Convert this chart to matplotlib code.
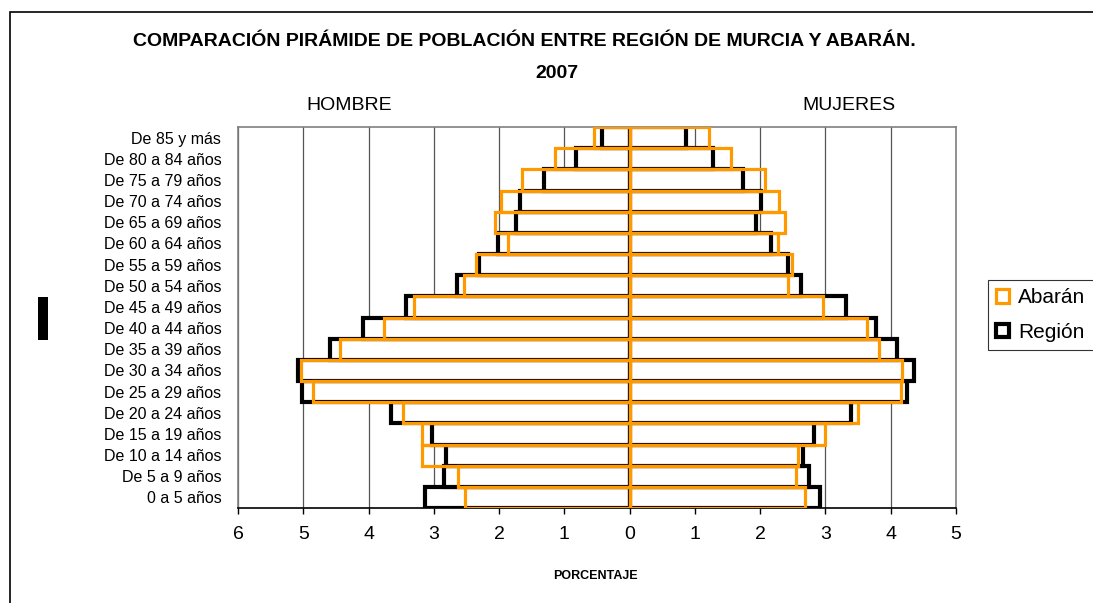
import matplotlib
matplotlib.use("Agg")
import matplotlib.pyplot as plt
from matplotlib.patches import Rectangle
import numpy as np

plt.rcParams['font.family'] = ['Liberation Sans', 'DejaVu Sans']

categories = ["0 a 5 años", "De 5 a 9 años", "De 10 a 14 años", "De 15 a 19 años",
              "De 20 a 24 años", "De 25 a 29 años", "De 30 a 34 años", "De 35 a 39 años",
              "De 40 a 44 años", "De 45 a 49 años", "De 50 a 54 años", "De 55 a 59 años",
              "De 60 a 64 años", "De 65 a 69 años", "De 70 a 74 años", "De 75 a 79 años",
              "De 80 a 84 años", "De 85 y más"]

# values listed from youngest (bottom) to oldest (top)
abaran_hombres = [2.52, 2.63, 3.18, 3.18, 3.47, 4.85, 5.04, 4.44, 3.76, 3.30,
                  2.54, 2.36, 1.87, 2.07, 1.97, 1.65, 1.15, 0.54]
region_hombres = [3.14, 2.84, 2.81, 3.03, 3.66, 5.02, 5.08, 4.59, 4.09, 3.42,
                  2.65, 2.31, 2.02, 1.74, 1.68, 1.31, 0.82, 0.42]
abaran_mujeres = [2.68, 2.55, 2.58, 2.99, 3.50, 4.15, 4.18, 3.82, 3.64, 2.96,
                  2.43, 2.49, 2.28, 2.38, 2.29, 2.07, 1.55, 1.21]
region_mujeres = [2.91, 2.75, 2.65, 2.83, 3.39, 4.25, 4.36, 4.09, 3.77, 3.32,
                  2.62, 2.43, 2.16, 1.94, 2.01, 1.73, 1.27, 0.87]

xticks = [-6, -5, -4, -3, -2, -1, 0, 1, 2, 3, 4, 5]
xticklabels = ["6", "5", "4", "3", "2", "1", "0", "1", "2", "3", "4", "5"]

W, H = 1093, 603
fig = plt.figure(figsize=(W / 100, H / 100), dpi=100)
ax = fig.add_axes([238 / W, 1 - 508 / H, (956 - 238) / W, (508 - 127) / H])

y = np.arange(len(categories))
black = "#000000"
orange = "#FF9900"

ax.barh(y, -np.array(region_hombres), height=1.0, color="white", edgecolor=black,
        linewidth=3.0, zorder=2)
ax.barh(y, region_mujeres, height=1.0, color="white", edgecolor=black,
        linewidth=3.0, zorder=2, label="Región")
ax.barh(y, -np.array(abaran_hombres), height=1.0, fill=False, edgecolor=orange,
        linewidth=2.3, zorder=3)
ax.barh(y, abaran_mujeres, height=1.0, fill=False, edgecolor=orange,
        linewidth=2.3, zorder=3, label="Abarán")

ax.set_xlim(-6, 5)
ax.set_ylim(-0.5, len(categories) - 0.5)
ax.set_xticks(xticks)
ax.set_xticklabels(xticklabels, fontsize=14)
ax.set_yticks(y)
ax.set_yticklabels(categories, fontsize=11.5)
ax.tick_params(axis='y', length=0, pad=12)
ax.tick_params(axis='x', length=4, width=1, color='black', pad=9, direction='out')

for t in xticks:
    ax.axvline(t, color="#555555", lw=0.9, zorder=1)
ax.axvline(0, color="black", lw=1.2, zorder=1.5)

for side in ['top', 'right', 'left']:
    ax.spines[side].set_color('#808080')
    ax.spines[side].set_linewidth(1.2)
ax.spines['bottom'].set_color('black')
ax.spines['bottom'].set_linewidth(1.2)

fig.text(595 / W, 1 - 576 / H, "PORCENTAJE", ha='center', va='center',
         fontsize=9, fontweight='bold')

fig.text(524 / W, 1 - 42 / H, "COMPARACIÓN PIRÁMIDE DE POBLACIÓN ENTRE REGIÓN DE MURCIA Y ABARÁN.",
         ha='center', va='center', fontsize=14, fontweight='bold')
fig.text(557 / W, 1 - 73 / H, "2007", ha='center', va='center', fontsize=14, fontweight='bold')
fig.text(349 / W, 1 - 106 / H, "HOMBRE", ha='center', va='center', fontsize=14)
fig.text(849 / W, 1 - 105 / H, "MUJERES", ha='center', va='center', fontsize=14)

# figure frame
fig.patches.append(Rectangle((10 / W, -0.05), 1.2, 1 - 12 / H + 0.05, transform=fig.transFigure,
                             fill=False, edgecolor='black', linewidth=1.2))
# small black block at left
fig.patches.append(Rectangle((38 / W, 1 - 340 / H), 10 / W, 43 / H, transform=fig.transFigure,
                             facecolor='black', edgecolor='none'))

handles, labels = ax.get_legend_handles_labels()
leg = fig.legend(handles[::-1], labels[::-1], loc='upper left',
                 bbox_to_anchor=(988 / W, 1 - 280 / H), frameon=True, fancybox=False,
                 fontsize=15, handlelength=0.6, handleheight=0.6, handletextpad=0.45,
                 labelspacing=0.75, borderpad=0.4, borderaxespad=0.0)
leg.get_frame().set_edgecolor('black')
leg.get_frame().set_linewidth(0.8)

fig.savefig("out.png", dpi=100)
